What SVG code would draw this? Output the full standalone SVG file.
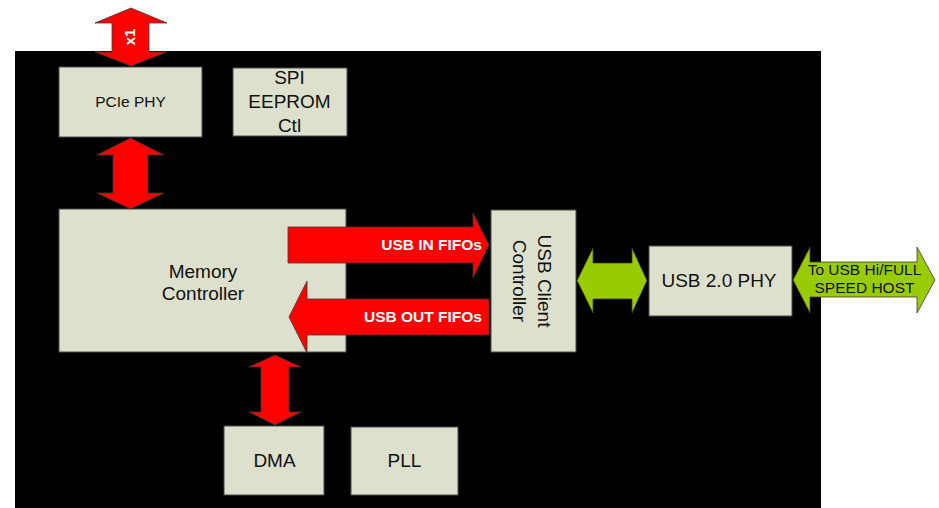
<svg xmlns="http://www.w3.org/2000/svg" width="939" height="508" viewBox="0 0 939 508">
<style>
.box{fill:#dde0cc;stroke:#4a4a4a;stroke-width:1}
.t{font-family:"Liberation Sans",Arial,sans-serif;fill:#111;text-anchor:middle}
.red{fill:#ff0000;stroke:#3a3a3a;stroke-width:0.8}
.grn{fill:#99cc00;stroke:#3a3a3a;stroke-width:0.8}
.wl{font-family:"Liberation Sans",Arial,sans-serif;font-weight:bold;fill:#fff}
</style>
<rect x="0" y="0" width="939" height="508" fill="#fff"/>
<rect id="chip" x="15" y="51" width="806" height="457" fill="#000"/>
<g id="pcie-phy">
  <rect class="box" x="59" y="67" width="143" height="70"/>
  <text class="t" font-size="15.5" x="130.5" y="107">PCIe PHY</text>
</g>
<g id="spi-eeprom">
  <rect class="box" x="233" y="68" width="114" height="68"/>
  <text class="t" font-size="19" x="289.5" y="83.5">SPI</text>
  <text class="t" font-size="19" x="289.5" y="108">EEPROM</text>
  <text class="t" font-size="19" x="289.5" y="132">Ctl</text>
</g>
<g id="memory-controller">
  <rect class="box" x="59" y="209" width="287" height="143"/>
  <text class="t" font-size="19" x="203" y="277.5">Memory</text>
  <text class="t" font-size="19" x="203" y="299.5">Controller</text>
</g>
<g id="usb-client">
  <rect class="box" x="491" y="210" width="85" height="142"/>
  <text class="t" font-size="19" transform="translate(538,281) rotate(90)">USB Client</text>
  <text class="t" font-size="19" transform="translate(513,281) rotate(90)">Controller</text>
</g>
<g id="usb-phy">
  <rect class="box" x="649" y="246" width="143" height="70"/>
  <text class="t" font-size="19" x="719" y="287">USB 2.0 PHY</text>
</g>
<g id="dma">
  <rect class="box" x="224" y="426" width="100" height="69"/>
  <text class="t" font-size="19" x="274.5" y="467">DMA</text>
</g>
<g id="pll">
  <rect class="box" x="351" y="427" width="107" height="68"/>
  <text class="t" font-size="19" x="404.5" y="467">PLL</text>
</g>
<g id="connectors">
  <polygon class="red" points="131,8 167,23 149,23 149,52 167,52 131,66 95,52 112,52 112,23 95,23"/>
  <text class="wl" font-size="15" text-anchor="middle" transform="translate(135,37) rotate(-90)">x1</text>
  <polygon class="red" points="130.5,138 164,155 148,155 148,193 164,193 130.5,209 97,193 113,193 113,155 97,155"/>
  <polygon class="red" points="275,355 301,367 289,367 289,412 301,412 275,425 249,412 261,412 261,367 249,367"/>
  <polygon class="red" points="288,227 473,227 473,213 489,245 473,278 473,263 288,263"/>
  <text class="wl" font-size="15.5" text-anchor="end" x="482" y="250">USB IN FIFOs</text>
  <polygon class="red" points="489,299 307,299 307,281 289,317 307,353 307,335 489,335"/>
  <text class="wl" font-size="15.5" text-anchor="end" x="482" y="322">USB OUT FIFOs</text>
  <polygon class="grn" points="577,280.5 593,248 593,263 632,263 632,248 647,280.5 632,313 632,299 593,299 593,313"/>
  <polygon class="grn" points="793,280 810,247 810,262 917,262 917,247 935,280 917,313 917,297 810,297 810,313"/>
  <text class="t" font-size="15.5" x="864.5" y="275">To USB Hi/FULL</text>
  <text class="t" font-size="15.5" x="864.5" y="292.5">SPEED HOST</text>
</g>
</svg>
